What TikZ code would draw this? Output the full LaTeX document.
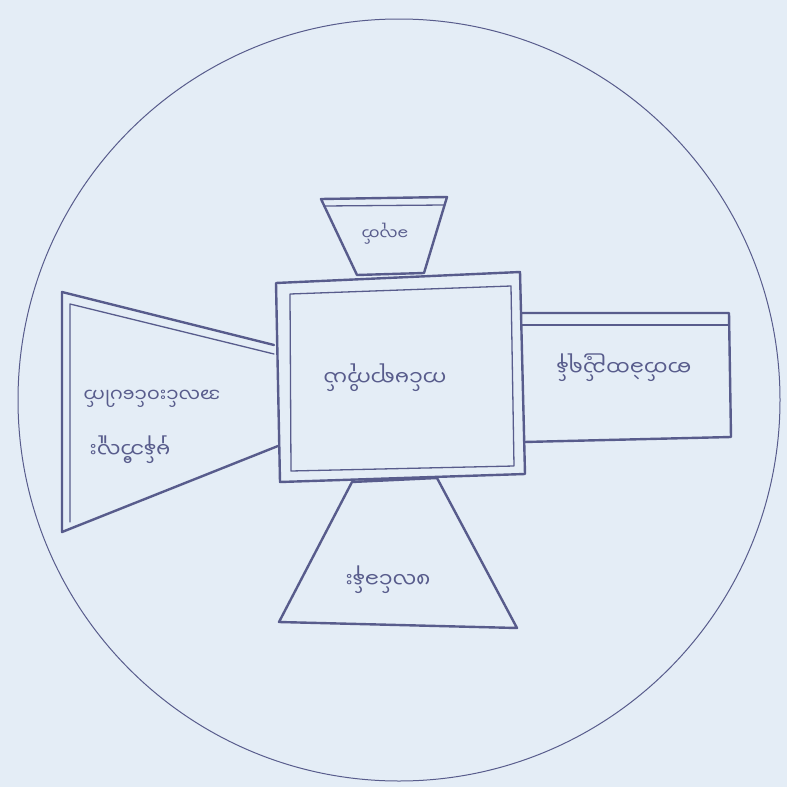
\documentclass[tikz,border=0pt]{standalone}
\usepackage{fontspec}
\newfontfamily\mya[Script=Myanmar]{Noto Sans Myanmar UI}
\definecolor{paper}{RGB}{228,237,246}
\definecolor{pencil}{RGB}{88,92,140}
\newcommand{\upsd}[1]{\rotatebox[origin=c]{180}{#1}}
\begin{document}
\begin{tikzpicture}[x=1pt,y=-1pt, line join=round, line cap=round,
  pen/.style={draw=pencil, line width=1.3pt},
  heavy/.style={draw=pencil, line width=2.4pt},
  lbl/.style={text=pencil, font=\mya\fontsize{21}{24}\selectfont, inner sep=1pt}]
\fill[paper] (0,0) rectangle (787,787);
\useasboundingbox (0,0) rectangle (787,787);
% outer circle
\draw[pen, line width=1pt] (399,400) circle (381);
% body
\draw[heavy] (276,283) -- (520,272) -- (525,474) -- (280,482) -- cycle;
\draw[pen] (290,294) -- (511,286) -- (514,466) -- (291,471) -- cycle;
% top trapezoid
\draw[heavy] (321,199) -- (447,197) -- (424,273) -- (357,275) -- cycle;
\draw[pen] (324,206) -- (444,205);
% right rectangle
\draw[heavy] (522,313) -- (729,313) -- (731,437) -- (524,442);
\draw[pen] (522,325) -- (728,325);
% left trapezoid
\draw[heavy] (274,345) -- (62,292) -- (62,532) -- (278,446);
\draw[pen] (274,354) -- (70,304) -- (70,522);
% bottom trapezoid
\draw[heavy] (352,482) -- (437,478) -- (517,628) -- (279,622) -- cycle;
% labels (written upside down)
\node[lbl] (body) at (385,378) {\upsd{ကင်မရာကိုယ်}};
\node[lbl, font=\mya\fontsize{16}{19}\selectfont] (top) at (385,234) {\upsd{ခလုတ်}};
\node[lbl] (right) at (624,368) {\upsd{ဓာတ်ခဲထည့်ရန်}};
\node[lbl] (leftA) at (130,450) {\upsd{မှန်ဘီလူး}};
\node[lbl, font=\mya\fontsize{19}{22}\selectfont] (leftB) at (152,397) {\upsd{အလင်းဝင်ပေါက်}};
\node[lbl] (bottom) at (388,580) {\upsd{ဖလင်ခန်း}};
\end{tikzpicture}
\end{document}
